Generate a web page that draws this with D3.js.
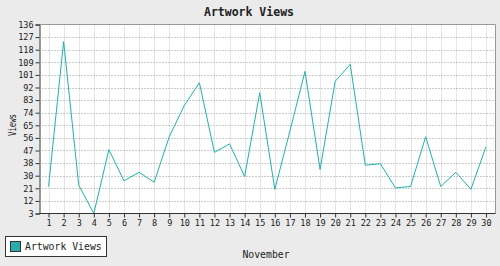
<!DOCTYPE html>
<html><head><meta charset="utf-8">
<script src="https://cdn.jsdelivr.net/npm/d3@7"></script>
<style>
html,body{margin:0;padding:0;background:#ebebeb;}
svg{display:block;}
text{font-family:"DejaVu Sans Mono",monospace;fill:#222;}
</style></head><body>
<script>
const days = d3.range(1, 31);
const views = [22,124,23,3,48,26,32,25,57,79,95,46,52,29,88,20,61,103,34,96,108,37,38,21,22,57,22,32,20,50];
const yTicks = [3,12,21,30,38,47,56,65,74,83,92,101,109,118,127,136];
const title = "Artwork Views";
const xTitle = "November";
const yTitle = "Views";
const seriesName = "Artwork Views";

const W = 500, H = 266;
const L = 39.5, R = 495.5, T = 24.5, B = 213.5;
const svg = d3.select("body").append("svg").attr("width", W).attr("height", H);

const x = d3.scaleLinear().domain([0.4, 30.63]).range([L, R]);
const y = d3.scaleLinear().domain([3, 136]).range([B, T]);

svg.append("rect").attr("x", L).attr("y", T).attr("width", R - L).attr("height", B - T).attr("fill", "#fff");

// vertical grid
svg.append("g").selectAll("line").data(days).join("line")
  .attr("x1", d => Math.round(x(d)) + 0.5).attr("x2", d => Math.round(x(d)) + 0.5)
  .attr("y1", T).attr("y2", B).attr("stroke", "#e6e6e6").attr("stroke-width", 1);
// horizontal grid
svg.append("g").selectAll("line").data(yTicks.slice(1, -1)).join("line")
  .attr("x1", L + 3).attr("x2", R)
  .attr("y1", (d, i) => Math.round(y(3 + (i + 1) * 133 / 15)) + 0.5)
  .attr("y2", (d, i) => Math.round(y(3 + (i + 1) * 133 / 15)) + 0.5)
  .attr("stroke", "#999").attr("stroke-dasharray", "1,2");

// top/right border
svg.append("path").attr("d", `M${L},${T}H${R}V${B}`).attr("fill", "none").attr("stroke", "#999");

// line
const line = d3.line().x((d, i) => x(days[i])).y(d => y(d));
svg.append("path").datum(views).attr("d", line).attr("fill", "none")
  .attr("stroke", "#20b2aa").attr("stroke-width", 1);

// axes
const yAxis = d3.axisLeft(y).tickValues(yTicks.map((d, i) => 3 + i * 133 / 15))
  .tickFormat((d, i) => yTicks[i]).tickSize(4).tickPadding(2);
const gy = svg.append("g").attr("transform", `translate(${L},0)`).call(yAxis);
const xAxis = d3.axisBottom(x).tickValues(days).tickFormat(d => d).tickSize(4).tickPadding(2);
const gx = svg.append("g").attr("transform", `translate(0,${B})`).call(xAxis);
[gy, gx].forEach(g => {
  g.select(".domain").attr("stroke", "#333");
  g.selectAll(".tick line").attr("stroke", "#333");
  g.selectAll("text").attr("font-family", "DejaVu Sans Mono").attr("font-size", 8.5).attr("fill", "#222");
});
gx.select(".domain").attr("d", `M${L},0H${R}`);

// titles
svg.append("text").attr("x", 249).attr("y", 16).attr("text-anchor", "middle")
  .attr("font-size", 11.5).attr("font-weight", "bold").text(title);
svg.append("text").attr("x", 266).attr("y", 258).attr("text-anchor", "middle")
  .attr("font-size", 9.8).text(xTitle);
svg.append("text").attr("transform", "translate(15.5,125) rotate(-90)").attr("text-anchor", "middle")
  .attr("font-size", 10.5).attr("textLength", 22).attr("lengthAdjust", "spacingAndGlyphs").text(yTitle);

// legend
svg.append("rect").attr("x", 5.5).attr("y", 236.5).attr("width", 101).attr("height", 20)
  .attr("fill", "#fff").attr("stroke", "#333");
svg.append("rect").attr("x", 10.5).attr("y", 241.5).attr("width", 10).attr("height", 10)
  .attr("fill", "#2aacac").attr("stroke", "#333");
svg.append("text").attr("x", 25).attr("y", 250).attr("font-size", 9.8).text(seriesName);
</script>
</body></html>
